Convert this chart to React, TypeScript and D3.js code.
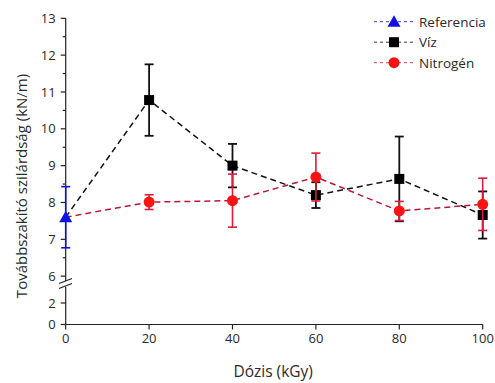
import * as d3 from "d3";

// Dose values (kGy)
const doses = [0, 20, 40, 60, 80, 100];

// Referencia (only at 0 kGy)
const refValue = 7.6;
const refErr = 0.83;

// Víz series (index 0 = reference point, line starts there)
const vizValues = [7.6, 10.78, 9.0, 8.2, 8.64, 7.66];
const vizErr = [0, 0.97, 0.59, 0.35, 1.15, 0.64];

// Nitrogén series
const nitroValues = [7.6, 8.01, 8.05, 8.69, 7.77, 7.95];
const nitroErr = [0, 0.2, 0.72, 0.65, 0.26, 0.71];

const xTicks = [0, 20, 40, 60, 80, 100];
const yTicksUpper = [6, 7, 8, 9, 10, 11, 12, 13];
const yTicksLower = [0, 2];

const legendItems = [
  { label: "Referencia", color: "#1010e0", line: "#3a3ad0", shape: "triangle" },
  { label: "Víz", color: "#000000", line: "#333333", shape: "square" },
  { label: "Nitrogén", color: "#ff1010", line: "#e04050", shape: "circle" },
];

const font = "'Open Sans', 'Noto Sans', sans-serif";

export default function App() {
  const width = 495;
  const height = 383;

  const x = d3.scaleLinear().domain([0, 100]).range([65.7, 482.7]);
  // broken y axis: upper and lower segments
  const yUp = d3.scaleLinear().domain([5.76, 13]).range([285, 18.3]);
  const yLow = d3.scaleLinear().domain([0, 3.6]).range([324.5, 285.8]);
  const y = (v: number) => (v >= 5.76 ? yUp(v) : yLow(v));

  const line = d3
    .line<number>()
    .x((_, i) => x(doses[i]))
    .y((d) => y(d));

  const minorUpper = d3.range(6.5, 13, 1);

  const errorBar = (
    xv: number,
    v: number,
    e: number,
    color: string,
    key: string,
    sw = 1.6
  ) => {
    if (!e) return null;
    const px = x(xv);
    const top = y(v + e);
    const bot = y(v - e);
    return (
      <g key={key} stroke={color} strokeWidth={sw}>
        <line x1={px} x2={px} y1={top} y2={bot} />
        <line x1={px - 4.5} x2={px + 4.5} y1={top} y2={top} />
        <line x1={px - 4.5} x2={px + 4.5} y1={bot} y2={bot} />
      </g>
    );
  };

  const marker = (shape: string, cx: number, cy: number, color: string, key?: string) => {
    if (shape === "square")
      return <rect key={key} x={cx - 5} y={cy - 5} width={10} height={10} fill={color} />;
    if (shape === "circle") return <circle key={key} cx={cx} cy={cy} r={5.5} fill={color} />;
    return (
      <path
        key={key}
        d={`M${cx},${cy - 6.5} L${cx + 6.5},${cy + 5} L${cx - 6.5},${cy + 5} Z`}
        fill={color}
      />
    );
  };

  const axisColor = "#222";
  const textColor = "#2a2a2a";

  return (
    <svg
      width={width}
      height={height}
      style={{ position: "absolute", left: 0, top: 0, background: "#fff" }}
      fontFamily={font}
    >
      {/* Axes */}
      <g stroke={axisColor} strokeWidth={1.2}>
        <line x1={x(0)} x2={x(0)} y1={yUp(13)} y2={281} />
        <line x1={x(0)} x2={x(0)} y1={287} y2={yLow(0)} />
        <line x1={x(0)} x2={x(100)} y1={yLow(0)} y2={yLow(0)} />
        {yTicksUpper.map((t) => (
          <line key={`yu${t}`} x1={x(0) - 5} x2={x(0)} y1={yUp(t)} y2={yUp(t)} />
        ))}
        {minorUpper.map((t) => (
          <line key={`ym${t}`} x1={x(0) - 3} x2={x(0)} y1={yUp(t)} y2={yUp(t)} />
        ))}
        {yTicksLower.map((t) => (
          <line key={`yl${t}`} x1={x(0) - 5} x2={x(0)} y1={yLow(t)} y2={yLow(t)} />
        ))}
        {xTicks.map((t) => (
          <line key={`x${t}`} x1={x(t)} x2={x(t)} y1={yLow(0)} y2={yLow(0) + 5} />
        ))}
        {/* break marks */}
        <line x1={59} x2={72} y1={283.5} y2={278.5} />
        <line x1={59} x2={72} y1={288.5} y2={283.5} />
      </g>

      {/* Tick labels */}
      <g fill={textColor} fontSize={13}>
        {yTicksUpper.map((t) => (
          <text key={`tu${t}`} x={x(0) - 10} y={yUp(t)} dy="0.36em" textAnchor="end">
            {t}
          </text>
        ))}
        {yTicksLower.map((t) => (
          <text key={`tl${t}`} x={x(0) - 10} y={yLow(t)} dy="0.36em" textAnchor="end">
            {t}
          </text>
        ))}
        {xTicks.map((t) => (
          <text key={`tx${t}`} x={x(t)} y={yLow(0) + 18} textAnchor="middle">
            {t}
          </text>
        ))}
      </g>

      {/* Axis titles */}
      <text
        x={x(50) - 1}
        y={377}
        textAnchor="middle"
        fontSize={15.5}
        fill={textColor}
      >
        Dózis (kGy)
      </text>
      <text
        transform={`translate(27, 186) rotate(-90)`}
        textAnchor="middle"
        fontSize={15}
        fill={textColor}
      >
        Továbbszakító szilárdság (kN/m)
      </text>

      {/* Lines */}
      <path d={line(vizValues) || ""} fill="none" stroke="#111" strokeWidth={1.5} strokeDasharray="6,4" />
      <path d={line(nitroValues) || ""} fill="none" stroke="#b8183a" strokeWidth={1.5} strokeDasharray="6,4" />

      {/* Referencia */}
      {errorBar(0, refValue, refErr, "#1010d0", "refErr")}
      {marker("triangle", x(0), y(refValue), "#1010e8")}

      {/* Víz */}
      {vizValues.map((v, i) => (i > 0 ? errorBar(doses[i], v, vizErr[i], "#111", `ve${i}`, 1.8) : null))}
      {vizValues.map((v, i) => (i > 0 ? marker("square", x(doses[i]), y(v), "#000", `vm${i}`) : null))}

      {/* Nitrogén */}
      {nitroValues.map((v, i) =>
        i > 0 ? errorBar(doses[i], v, nitroErr[i], "#e01a3c", `ne${i}`, 1.6) : null
      )}
      {nitroValues.map((v, i) => (i > 0 ? marker("circle", x(doses[i]), y(v), "#ff1212", `nm${i}`) : null))}

      {/* Legend */}
      {legendItems.map((item, i) => {
        const ly = 21.7 + i * 20.5;
        return (
          <g key={item.label}>
            <line
              x1={374}
              x2={415}
              y1={ly}
              y2={ly}
              stroke={item.line}
              strokeWidth={1}
              strokeDasharray="3,3"
            />
            {marker(item.shape, 394, ly, item.color)}
            <text x={419} y={ly} dy="0.36em" fontSize={13.5} fill={textColor}>
              {item.label}
            </text>
          </g>
        );
      })}
    </svg>
  );
}
